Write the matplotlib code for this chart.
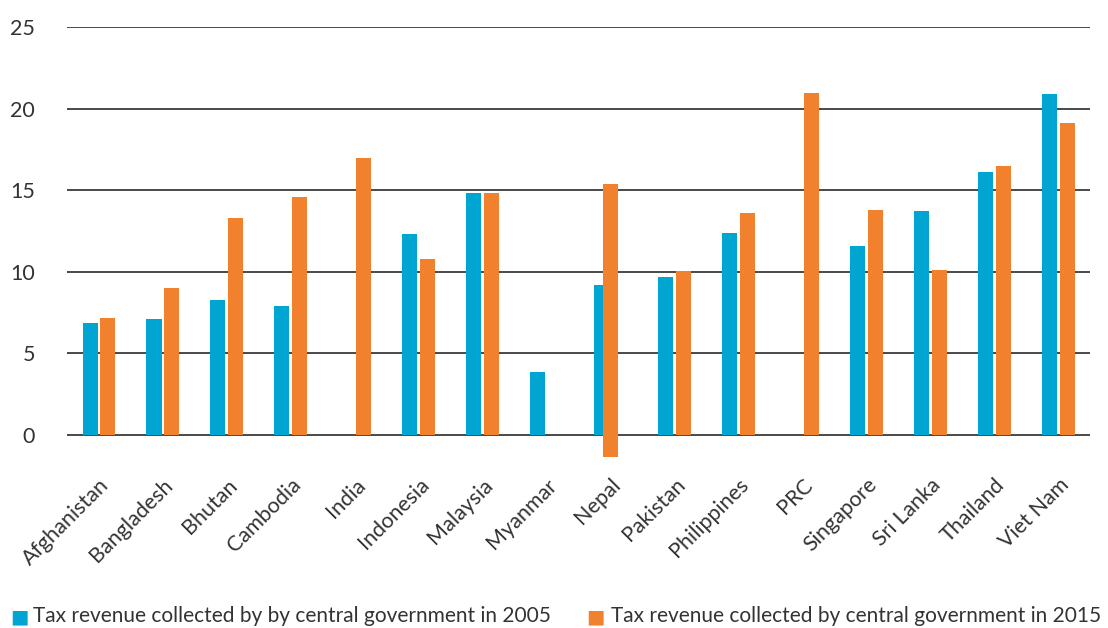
import matplotlib
matplotlib.use('Agg')
import matplotlib.pyplot as plt
import numpy as np

plt.rcParams['font.family'] = ['Lato', 'DejaVu Sans']

countries = ['Afghanistan', 'Bangladesh', 'Bhutan', 'Cambodia', 'India', 'Indonesia',
             'Malaysia', 'Myanmar', 'Nepal', 'Pakistan', 'Philippines', 'PRC',
             'Singapore', 'Sri Lanka', 'Thailand', 'Viet Nam']
# nan = no data
tax_2005 = [6.86, 7.1, 8.27, 7.9, np.nan, 12.3, 14.8, 3.86, 9.2, 9.68, 12.4, np.nan,
            11.6, 13.7, 16.1, 20.9]
tax_2015 = [7.17, 9.0, 13.3, 14.6, 17.0, 10.8, 14.8, np.nan, 15.4, 10.05, 13.6, 20.95,
            13.8, 10.1, 16.5, 19.1]
# the Nepal 2015 bar in the source starts below zero
base_2015 = [0, 0, 0, 0, 0, 0, 0, 0, -1.35, 0, 0, 0, 0, 0, 0, 0]

c05 = '#00a5d2'
c15 = '#f2812e'

fig = plt.figure(figsize=(11.08, 6.28), dpi=100)
ax = fig.add_axes([0.0605, 0.2683, 0.9235, 0.6887])

x = np.arange(len(countries))
w = 0.235
off = 0.14

ax.bar(x - off, tax_2005, w, color=c05, zorder=3)
h15 = np.array(tax_2015) - np.array(base_2015)
shift = np.where(np.array(base_2015) < 0, 0, off)
ax.bar(x + shift, h15, w, bottom=base_2015, color=c15, zorder=3)

ax.set_xlim(-0.5, len(countries) - 0.5)
ax.set_ylim(-1.5, 25)
ax.set_yticks([0, 5, 10, 15, 20, 25])
ax.yaxis.grid(True, color='#3a3a3a', linewidth=1.3, zorder=1)
ax.set_axisbelow(True)
for s in ax.spines.values():
    s.set_visible(False)
ax.tick_params(axis='y', length=0, pad=23, labelsize=15.5, labelcolor='#333333')
ax.tick_params(axis='x', length=0, pad=11, labelsize=15.5, labelcolor='#333333')
ax.set_xticks(x)
ax.set_xticklabels(countries, rotation=45, ha='right', rotation_mode='anchor')

# legend along the bottom
fig.text(0.009, 0.0095, '\u25a0', color=c05, fontsize=14, va='baseline')
fig.text(0.030, 0.0095, 'Tax revenue collected by by central government in 2005',
         color='#333333', fontsize=15, va='baseline')
fig.text(0.529, 0.0095, '\u25a0', color=c15, fontsize=14, va='baseline')
fig.text(0.551, 0.0095, 'Tax revenue collected by central government in 2015',
         color='#333333', fontsize=15, va='baseline')

plt.savefig('out.png', dpi=100)
